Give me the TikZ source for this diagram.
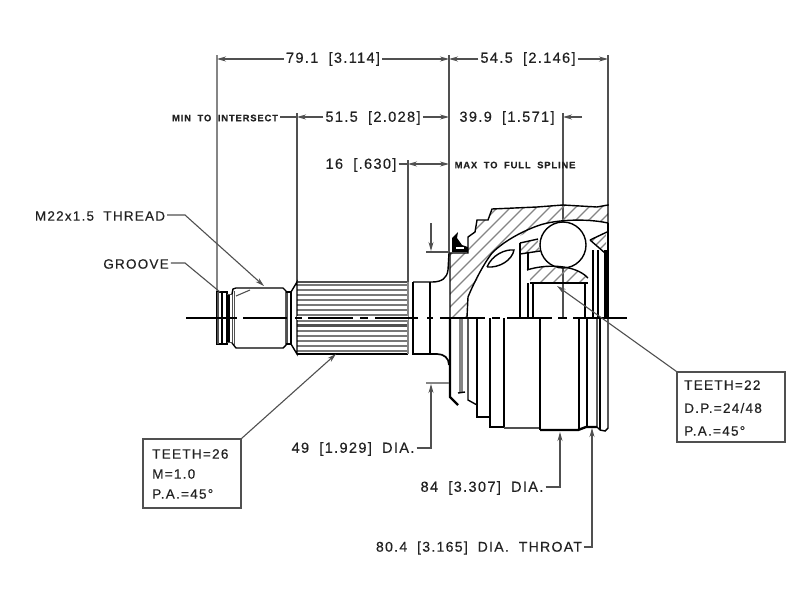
\documentclass[tikz,border=0pt]{standalone}
\usepackage{fontspec}
\setmainfont{Liberation Sans}
\newfontfamily\cadfont[LetterSpace=9,WordSpace=1.9,FakeBold=0.3]{Liberation Sans}
\usetikzlibrary{arrows.meta}
\definecolor{inkc}{HTML}{222222}
\definecolor{dimc}{HTML}{505050}
\definecolor{pale}{HTML}{858585}
\tikzset{
  lbl/.style={inner sep=2pt,font=\cadfont\fontsize{14.6}{15}\selectfont,text=inkc},
  lbll/.style={inner sep=2pt,font=\cadfont\fontsize{14.1}{15}\selectfont,text=inkc},
  lblm/.style={inner sep=2pt,font=\cadfont\fontsize{13.5}{15}\selectfont,text=inkc},
  small/.style={inner sep=2pt,font=\cadfont\bfseries\fontsize{9.4}{10}\selectfont,text=inkc},
  boxtxt/.style={inner sep=0pt,anchor=west,font=\cadfont\fontsize{13.6}{14}\selectfont,text=inkc},
  frame/.style={draw=dimc,line width=1.2pt,fill=white,inner sep=0pt},
  dim/.style={draw=dimc,line width=1.1pt},
  ext/.style={draw=dimc,line width=1.1pt},
  tip/.style={-{Stealth[length=9pt,width=5pt]}},
  obj/.style={draw=black,line width=1.4pt},
  thick obj/.style={draw=black,line width=2.4pt},
  hatchl/.style={draw=pale,line width=1.2pt},
  spl/.style={draw=pale!90!black,line width=2.1pt}
}
\begin{document}
\begin{tikzpicture}[x=1pt,y=-1pt]
\useasboundingbox (0,0) rectangle (800,600);
\fill[white] (0,0) rectangle (800,600);
% dimension anchor coordinates
\coordinate (eA) at (217,55); \coordinate (eAb) at (217,291);
\coordinate (eB) at (449,55); \coordinate (eBb) at (449,253);
\coordinate (eC) at (608,55); \coordinate (eCb) at (608,206);
\coordinate (eD) at (297,113); \coordinate (eDb) at (297,282);
\coordinate (eE) at (563,113); \coordinate (eEb) at (563,318);
\coordinate (eF) at (408,160); \coordinate (eFb) at (408,282);
% extension lines
\draw[ext,draw=pale,line width=1.6pt] (eA) -- (eAb);
\draw[ext] (eB) -- (eBb);
\draw[ext] (eC) -- (eCb);
\draw[ext] (eD) -- (eDb);
\draw[ext] (eE) -- (eEb);
\draw[ext] (eF) -- (eFb);
% hatched housing
\begin{scope}
\clip (450,253) -- (468,253) -- (468,237) -- (475,232) -- (477,220) -- (488,220) -- (492,209) -- (537,207) -- (563,205) -- (597,207) -- (608,205) -- (608,223) -- (587,220) -- (563,220) -- (540,225) -- (507,243) -- (492,253) -- (478,278) -- (468,297) -- (467,317) -- (450,317) -- cycle;
\foreach \i in {-91,-78,...,130} { \draw[hatchl] (440+\i,330) -- ++(200,-200); }
\end{scope}
\draw[obj] (450,317) -- (450,253) -- (468,253) -- (468,237) -- (475,232) -- (477,220) -- (488,220) -- (492,209) -- (537,207) -- (563,205) -- (597,207) -- (608,205) -- (608,223);
\draw[obj] (467,317) -- (468,297) .. controls (475,280) and (485,262) .. (492,253) .. controls (505,240) and (525,230) .. (540,225) .. controls (555,220) and (585,218) .. (608,223);
% boot clamp
\fill[black] (452,238) -- (458,232) -- (457,238) -- (462,245) -- (468,247) -- (468,252) -- (452,252) -- cycle;
\fill[white] (456,247) rectangle (464,249);
% ball
\draw[obj,fill=white] (563,245) circle[radius=23];
% cage window lens
\draw[obj] (487,267) .. controls (492,255) and (505,249) .. (514,250) .. controls (512,260) and (500,268) .. (487,267);
% cage pieces
\begin{scope}
\clip (520,243) -- (538,240) -- (540,251) -- (520,254) -- cycle;
\foreach \i in {-20,-12,...,40} { \draw[hatchl] (515+\i,260) -- ++(30,-30); }
\end{scope}
\draw[obj] (520,243) -- (538,239);
\draw[obj] (520,254) -- (540,251);
\begin{scope}
\clip (590,240) -- (606,232) -- (606,253) -- cycle;
\foreach \i in {-20,-12,...,40} { \draw[hatchl] (585+\i,260) -- ++(30,-30); }
\end{scope}
\draw[obj] (590,240) -- (607,232);
\draw[obj] (590,240) -- (605,253);
% inner race
\begin{scope}
\clip (527,270) .. controls (545,264) and (575,264) .. (588,278) -- (588,283) -- (531,283) -- cycle;
\foreach \i in {-26,-13,...,80} { \draw[hatchl] (515+\i,295) -- ++(40,-40); }
\end{scope}
\draw[obj] (527,270) .. controls (545,264) and (575,264) .. (588,278);
\draw[obj] (530,283) -- (588,283);
% upper verticals
\draw[thick obj,line width=1.8pt] (520,243) -- (520,317);
\draw[obj] (528,253) -- (528,270);
\draw[obj] (528,283) -- (528,317);
\draw[thick obj] (533,283) -- (533,317);
\draw[obj] (585,283) -- (585,317);
\draw[obj] (593,250) -- (593,317);
\draw[obj] (598,250) -- (598,317);
\draw[thick obj,line width=3pt] (605,250) -- (605,317);
\draw[obj] (608,223) -- (608,318);
% lower housing
\draw[thick obj] (450,318) -- (450,397) -- (458,405);
\draw[draw=pale,line width=4.5pt] (461,318) -- (461,392);
\draw[obj] (458,393) -- (465,392);
\draw[obj] (468,318) -- (468,400) -- (477,405);
\draw[thick obj,line width=1.9pt] (477,318) -- (477,417) -- (490,417);
\draw[thick obj,line width=1.9pt] (490,318) -- (490,427) -- (504,427);
\draw[obj] (504,318) -- (504,427);
\draw[draw=dimc,line width=1.8pt] (504,428) -- (540,428);
\draw[obj] (540,318) -- (540,430);
\draw[thick obj] (540,430) -- (578,430) -- (586,427) -- (597,427);
\draw[obj] (579,318) -- (579,430);
\draw[obj] (587,318) -- (587,427);
\draw[obj] (597,318) -- (597,427) -- (600,430) -- (605,431) -- (608,428) -- (608,318);
\draw[obj] (600,318) -- (600,430);
% shaft
\foreach \yy in {285,290,295,300,305,310,315,321,326,331,336,341,346,351} { \draw[spl] (297,\yy) -- (408,\yy); }
\draw[draw=dimc,line width=3pt] (297,325) -- (408,325);
\draw[draw=dimc,line width=1.2pt] (297,282) -- (408,282);
\draw[obj] (297,354) -- (408,354);
\draw[obj] (217,292) -- (227,292) -- (227,344) -- (217,344) -- cycle;
\draw[draw=dimc,line width=1.6pt] (218,292) -- (218,344);
\draw[obj] (222,292) -- (222,344);
\draw[obj] (229,294) -- (229,342);
\draw[draw=dimc,line width=1pt] (227,294) -- (232,294) -- (232,342) -- (227,342);
\draw[obj] (232,294) -- (233,289) -- (236,288) -- (283,288) -- (286,291) -- (286,345) -- (283,348) -- (236,348) -- (232,343);
\draw[draw=dimc,line width=1pt] (234,291) -- (234,345);
\draw[dim] (236,296) -- (250,290);
\draw[draw=dimc,line width=2pt] (287,292) -- (287,343);
\draw[obj] (286,292) -- (291,292) -- (291,344) -- (286,344);
\draw[obj] (291,292) -- (297,282) -- (297,354) -- (291,344);
\draw[draw=pale,line width=1.5pt] (408,282) -- (408,354);
\draw[thick obj,line width=1.7pt] (413,282) -- (413,354) -- (437,354) .. controls (444,354) and (449,358) .. (449,365);
\draw[obj] (430,282) -- (430,354);
\draw[obj] (413,282) -- (432,282) .. controls (442,282) and (447,278) .. (448,270) -- (449,253);
% centre line
\draw[white,line width=3.5pt] (297,318) -- (408,318);
\foreach \a/\b in {186/237,243/287,295/302,308/353,360/368,375/418,427/433,440/485,492/500,507/552,558/567,573/627}
  { \draw[black,line width=1.6pt] (\a,318) -- (\b,318); }
% text
\node[lbl] (t79) at (333,59) {79.1 [3.114]};
\node[lbl] (t54) at (528,59) {54.5 [2.146]};
\node[small] (tmin) at (225,118) {MIN TO INTERSECT};
\node[lbl] (t51) at (373,118) {51.5 [2.028]};
\node[lbl] (t39) at (507,118) {39.9 [1.571]};
\node[lbl] (t16) at (361,165) {16 [.630]};
\node[small] (tmax) at (515,165) {MAX TO FULL SPLINE};
\node[lblm] (tm22) at (100,216) {M22x1.5 THREAD};
\node[lblm] (tgr) at (136,264) {GROOVE};
\node[lbl] (t49) at (353,449) {49 [1.929] DIA.};
\node[lbl] (t84) at (482,488) {84 [3.307] DIA.};
\node[lbll] (t80) at (479,548) {80.4 [3.165] DIA. THROAT};
% boxes
\node[frame,minimum width=98pt,minimum height=69pt] (bl) at (192,473.5) {};
\node[boxtxt] at (152,454) {TEETH=26};
\node[boxtxt] at (152,474) {M=1.0};
\node[boxtxt] at (152,494) {P.A.=45°};
\node[frame,minimum width=108pt,minimum height=70pt] (br) at (731,407) {};
\node[boxtxt] at (684,385) {TEETH=22};
\node[boxtxt] at (684,408) {D.P.=24/48};
\node[boxtxt] at (684,431) {P.A.=45°};
% dimension lines
\coordinate (yA) at (217,59); \coordinate (yB) at (449,59); \coordinate (yC) at (608,59);
\draw[dim,tip] (t79.west) -- (yA);
\draw[dim,tip] (t79.east) -- (yB);
\draw[dim,tip] (t54.west) -- (yB);
\draw[dim,tip] (t54.east) -- (yC);
\coordinate (yD) at (297,117); \coordinate (yBb) at (449,117); \coordinate (yE) at (563,117);
\draw[dim] (tmin.east |- yD) -- (yD);
\draw[dim,tip] (t51.west |- yD) -- (yD);
\draw[dim,tip] (t51.east |- yD) -- (yBb);
\coordinate (sE) at (582,117);
\draw[dim,tip] (sE) -- (yE);
\coordinate (yF) at (408,164); \coordinate (yBc) at (449,164); \coordinate (mF) at (428,164);
\draw[dim] (t16.east |- yF) -- (yF);
\draw[dim,tip] (mF) -- (yF);
\draw[dim,tip] (mF) -- (yBc);
% leaders
\coordinate (kM) at (185,215); \coordinate (hM) at (264,286);
\draw[dim,tip] (tm22.east |- kM) -- (kM) -- (hM);
\coordinate (kG) at (185,263); \coordinate (hG) at (220,292);
\draw[dim] (tgr.east |- kG) -- (kG) -- (hG);
\coordinate (hS) at (336,354);
\draw[dim,tip] (bl.north east) -- (hS);
\coordinate (hT) at (557,286);
\draw[dim,tip] (br.north west) -- (hT);
\coordinate (k49) at (431,448); \coordinate (h49) at (431,384);
\draw[dim,tip] (t49.east |- k49) -- (k49) -- (h49);
\draw[draw=pale,line width=1.4pt] (426,383) -- (449,383);
\coordinate (k84) at (560,487); \coordinate (h84) at (560,432);
\draw[dim,tip] (t84.east |- k84) -- (k84) -- (h84);
\coordinate (k80) at (592,547); \coordinate (h80) at (592,428);
\draw[dim,tip] (t80.east |- k80) -- (k80) -- (h80);
\coordinate (s49) at (431,223); \coordinate (a49) at (431,251);
\draw[dim,tip] (s49) -- (a49);
\draw[draw=dimc,line width=1.2pt] (426,252) -- (449,252);
\end{tikzpicture}
\end{document}
